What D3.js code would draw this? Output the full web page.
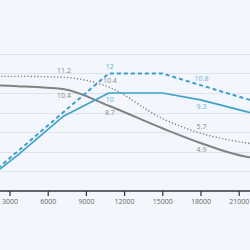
<!DOCTYPE html>
<html>
<head>
<meta charset="utf-8">
<script src="https://cdn.jsdelivr.net/npm/d3@7"></script>
<style>
  html, body { margin: 0; padding: 0; background: #f3f6fc; }
  svg { display: block; }
  text { font-family: "Open Sans", "Lato", sans-serif; }
</style>
</head>
<body>
<div id="main"></div>
<script>
// x positions shared by every series
const xs = [0, 3600, 7200, 10800, 15000, 18000, 21600, 25200];

const grayDotted = [11.7, 11.7, 11.6, 10.6, 7.4, 5.9, 4.9, 4.3];
const graySolid  = [10.8, 10.7, 10.4, 8.7, 6.4, 4.9, 3.5, 3.1];
const blueDashed = [0, 4, 8, 12, 12, 10.8, 9.4, 8.2];
const blueSolid  = [0, 3.6, 7.6, 10, 10, 9.3, 8.1, 7];

const xTicks = [3000, 6000, 9000, 12000, 15000, 18000, 21000];
const yGrid = [2, 4, 6, 8, 10, 12, 14];

// point labels: series, index, text, side
const pointLabels = [
  ['dotted', 2, '11.2', 'above'],
  ['solid', 2, '10.4', 'below'],
  ['dashed', 3, '12', 'above'],
  ['dotted', 3, '10.4', 'above'],
  ['blue', 3, '10', 'below'],
  ['solid', 3, '8.7', 'below'],
  ['dashed', 5, '10.8', 'above'],
  ['blue', 5, '9.3', 'below'],
  ['dotted', 5, '5.7', 'above'],
  ['solid', 5, '4.9', 'below']
];

const W = 250, H = 250;
const svg = d3.select('#main').append('svg').attr('width', W).attr('height', H);

const x = d3.scaleLinear().domain([0, 21000]).range([-28.7, 238.7]);
const y = d3.scaleLinear().domain([0, 14]).range([191, 53.8]);

// grid
svg.append('g')
  .selectAll('line')
  .data(yGrid)
  .join('line')
  .attr('x1', 0).attr('x2', W)
  .attr('y1', d => Math.round(y(d)) + 0.5)
  .attr('y2', d => Math.round(y(d)) + 0.5)
  .attr('stroke', '#dfe4ec')
  .attr('stroke-width', 1);

const series = {
  dotted: { vals: grayDotted, color: '#858585', width: 1.4, dash: '1.3,2', lab: '#8a8a8a', curve: d3.curveMonotoneX },
  solid:  { vals: graySolid,  color: '#828282', width: 2, dash: null, lab: '#8a8a8a', curve: d3.curveMonotoneX },
  dashed: { vals: blueDashed, color: '#3d9fc8', width: 2, dash: '4,3', lab: '#64b2d6', curve: d3.curveLinear },
  blue:   { vals: blueSolid,  color: '#3ea2ca', width: 1.6, dash: null, lab: '#64b2d6', curve: d3.curveLinear }
};

['solid', 'dotted', 'blue', 'dashed'].forEach(k => {
  const s = series[k];
  const line = d3.line()
    .x((d, i) => x(xs[i]))
    .y(d => y(d))
    .curve(s.curve);
  svg.append('path')
    .datum(s.vals)
    .attr('fill', 'none')
    .attr('stroke', s.color)
    .attr('stroke-width', s.width)
    .attr('stroke-dasharray', s.dash)
    .attr('stroke-linejoin', 'round')
    .attr('d', line);
});

// x axis
const axis = svg.append('g')
  .attr('transform', 'translate(0,191)')
  .call(d3.axisBottom(x).tickValues(xTicks).tickSize(5).tickPadding(3).tickFormat(d3.format('d')));
axis.select('.domain').remove();
axis.selectAll('.tick line').attr('stroke', '#333').attr('stroke-width', 1.2);
axis.selectAll('.tick text')
  .attr('fill', '#666')
  .style('font-size', '7px');
svg.append('line')
  .attr('x1', 0).attr('x2', W)
  .attr('y1', 191).attr('y2', 191)
  .attr('stroke', '#333')
  .attr('stroke-width', 1.5);

// point labels
svg.append('g')
  .selectAll('text')
  .data(pointLabels)
  .join('text')
  .attr('x', d => x(xs[d[1]]) + 1)
  .attr('y', d => y(series[d[0]].vals[d[1]]) + (d[3] === 'above' ? -4 : 9))
  .attr('text-anchor', 'middle')
  .attr('fill', d => series[d[0]].lab)
  .style('font-size', '7px')
  .text(d => d[2]);
</script>
</body>
</html>
